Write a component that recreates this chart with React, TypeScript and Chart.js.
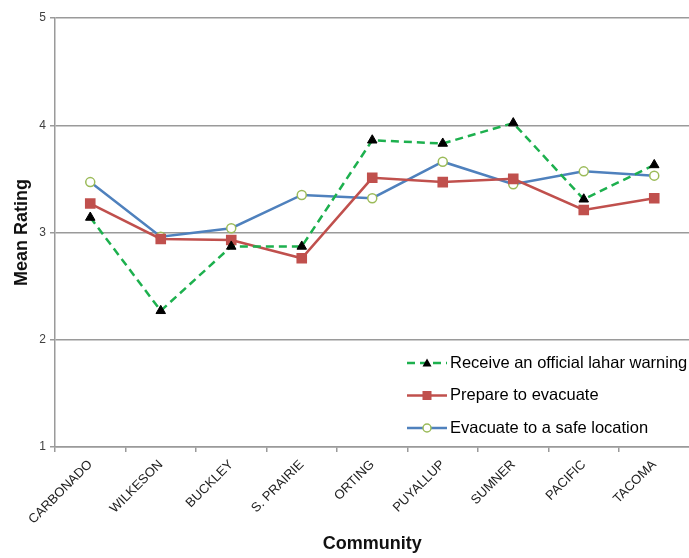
import React, { useEffect, useRef } from "react";
import { Chart, registerables } from "chart.js";

Chart.register(...registerables);

const communities = ["CARBONADO", "WILKESON", "BUCKLEY", "S. PRAIRIE", "ORTING", "PUYALLUP", "SUMNER", "PACIFIC", "TACOMA"];
const receiveWarning = [3.14, 2.27, 2.87, 2.87, 3.86, 3.83, 4.02, 3.31, 3.63];
const prepareEvacuate = [3.27, 2.94, 2.93, 2.76, 3.51, 3.47, 3.5, 3.21, 3.32];
const evacuateSafe = [3.47, 2.96, 3.04, 3.35, 3.32, 3.66, 3.45, 3.57, 3.53];
const seriesNames = ["Receive an official lahar warning", "Prepare to evacuate", "Evacuate to a safe location"];
const yMin = 1;
const yMax = 5;

const FONT = '"Liberation Sans", Arial, sans-serif';

const legendPlugin = {
  id: "insideLegend",
  afterDraw(chart: any) {
    const ctx = chart.ctx as CanvasRenderingContext2D;
    const area = chart.chartArea;
    const x0 = area.left + 352;
    chart.data.datasets.forEach((ds: any, i: number) => {
      const y = area.bottom - 84 + i * 32.5;
      ctx.save();
      ctx.strokeStyle = ds.borderColor;
      ctx.lineWidth = ds.borderWidth;
      ctx.setLineDash(ds.borderDash || []);
      ctx.beginPath();
      ctx.moveTo(x0, y);
      ctx.lineTo(x0 + 40, y);
      ctx.stroke();
      ctx.setLineDash([]);
      const cx = x0 + 20;
      ctx.fillStyle = ds.pointBackgroundColor;
      ctx.strokeStyle = ds.pointBorderColor;
      ctx.lineWidth = ds.pointBorderWidth || 1;
      if (ds.pointStyle === "triangle") {
        ctx.beginPath();
        ctx.moveTo(cx, y - 4.5);
        ctx.lineTo(cx + 4.5, y + 3.5);
        ctx.lineTo(cx - 4.5, y + 3.5);
        ctx.closePath();
        ctx.fill();
      } else if (ds.pointStyle === "rect") {
        ctx.fillRect(cx - 4.5, y - 4.5, 9, 9);
      } else {
        ctx.beginPath();
        ctx.arc(cx, y, 4, 0, Math.PI * 2);
        ctx.fill();
        ctx.stroke();
      }
      ctx.fillStyle = "#000";
      ctx.font = `16.5px ${FONT}`;
      ctx.textBaseline = "middle";
      ctx.textAlign = "left";
      ctx.fillText(ds.label, x0 + 43, y);
      ctx.restore();
    });
  },
};

export default function App() {
  const ref = useRef<HTMLCanvasElement | null>(null);

  useEffect(() => {
    document.body.style.margin = "0";
    if (!ref.current) return;
    const chart = new Chart(ref.current, {
      type: "line",
      data: {
        labels: communities,
        datasets: [
          {
            label: seriesNames[0],
            data: receiveWarning,
            borderColor: "#1DB04E",
            borderWidth: 2.5,
            borderDash: [8, 5],
            pointStyle: "triangle",
            pointRadius: 5.5,
            pointBackgroundColor: "#000",
            pointBorderColor: "#000",
            pointBorderWidth: 1,
            tension: 0,
          },
          {
            label: seriesNames[1],
            data: prepareEvacuate,
            borderColor: "#C0504D",
            borderWidth: 2.5,
            pointStyle: "rect",
            pointRadius: 7.5,
            pointBackgroundColor: "#C0504D",
            pointBorderColor: "#C0504D",
            pointBorderWidth: 0,
            tension: 0,
          },
          {
            label: seriesNames[2],
            data: evacuateSafe,
            borderColor: "#4F81BD",
            borderWidth: 2.5,
            pointStyle: "circle",
            pointRadius: 4.5,
            pointBackgroundColor: "#FFFFFF",
            pointBorderColor: "#9BBB59",
            pointBorderWidth: 1.5,
            tension: 0,
          },
        ] as any,
      },
      options: {
        animation: false,
        responsive: true,
        maintainAspectRatio: false,
        layout: { padding: { top: 18, right: 1, left: 0, bottom: 0 } },
        plugins: {
          legend: { display: false },
          tooltip: { enabled: false },
        },
        scales: {
          x: {
            type: "category",
            offset: true,
            grid: {
              display: true,
              drawOnChartArea: false,
              drawTicks: true,
              tickLength: 5,
              offset: true,
              color: "#9a9a9a",
              lineWidth: 1.5,
            },
            border: { display: true, color: "#9a9a9a", width: 1.5 },
            ticks: {
              minRotation: 45,
              maxRotation: 45,
              autoSkip: false,
              padding: 5,
              color: "#222",
              font: { family: FONT, size: 13 },
            },
            title: {
              display: true,
              text: "Community",
              color: "#111",
              font: { family: FONT, size: 18, weight: "bold" },
              padding: { top: 4, bottom: 3 },
            },
            afterFit(scale: any) {
              scale.height = 111;
            },
          },
          y: {
            min: yMin,
            max: yMax,
            ticks: {
              stepSize: 1,
              padding: 4,
              color: "#404040",
              font: { family: FONT, size: 12 },
            },
            grid: {
              color: "#9a9a9a",
              lineWidth: 1.5,
              drawTicks: true,
              tickLength: 5,
            },
            border: { display: true, color: "#9a9a9a", width: 1.5 },
            title: {
              display: true,
              text: "Mean Rating",
              color: "#111",
              font: { family: FONT, size: 18, weight: "bold" },
              padding: { top: 11, bottom: 0 },
            },
            afterFit(scale: any) {
              scale.width = 55;
            },
          },
        },
      } as any,
      plugins: [legendPlugin],
    });
    return () => chart.destroy();
  }, []);

  return (
    <div style={{ position: "fixed", left: 0, top: 0, width: 689, height: 558, overflow: "hidden", background: "#fff" }}>
      <div style={{ position: "absolute", left: 0, top: 0, width: 697, height: 558 }}>
        <canvas ref={ref} />
      </div>
    </div>
  );
}
